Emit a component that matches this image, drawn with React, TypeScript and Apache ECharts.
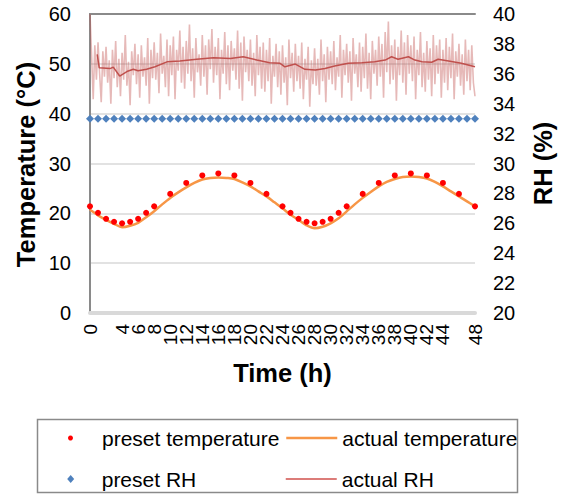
import React, { useEffect, useRef } from "react";
import * as echarts from "echarts";

const FONT = '"Liberation Sans", Arial, Helvetica, sans-serif';

// Axis ranges / tick steps
const TIME_MIN = 0;
const TIME_MAX = 48;
const TIME_STEP = 2;
const TEMP_MIN = 0;
const TEMP_MAX = 60;
const TEMP_STEP = 10;
const RH_MIN = 20;
const RH_MAX = 40;
const RH_STEP = 2;

// Titles / legend names
const TITLE_TEMP = "Temperature (°C)";
const TITLE_RH = "RH (%)";
const TITLE_TIME = "Time (h)";
const NAME_PRESET_T = "preset temperature";
const NAME_ACTUAL_T = "actual temperature";
const NAME_PRESET_RH = "preset RH";
const NAME_ACTUAL_RH = "actual RH";

// preset temperature (red dots)
const presetTempHours = [0, 1, 2, 3, 4, 5, 6, 7, 8, 10, 12, 14, 16, 18, 20, 22, 24, 25, 26, 27, 28, 29, 30, 31, 32, 34, 36, 38, 40, 42, 44, 46, 48];
const presetTempValues = [21.4, 20.1, 18.9, 18.3, 18.0, 18.3, 18.9, 20.1, 21.4, 23.9, 26.1, 27.6, 28.0, 27.6, 26.1, 23.9, 21.4, 20.1, 18.9, 18.3, 18.0, 18.3, 18.9, 20.1, 21.4, 23.9, 26.1, 27.6, 28.0, 27.6, 26.1, 23.9, 21.4];

// actual temperature (orange line), hourly
const actualTempHours = [0, 1, 2, 3, 4, 5, 6, 7, 8, 9, 10, 11, 12, 13, 14, 15, 16, 17, 18, 19, 20, 21, 22, 23, 24, 25, 26, 27, 28, 29, 30, 31, 32, 33, 34, 35, 36, 37, 38, 39, 40, 41, 42, 43, 44, 45, 46, 47, 48];
const actualTempValues = [20.7, 19.6, 18.7, 17.9, 17.2, 17.5, 18.1, 19.2, 20.4, 21.8, 23.1, 24.2, 25.2, 26.1, 26.8, 27.1, 27.2, 27.1, 26.9, 26.2, 25.4, 24.4, 23.4, 22.2, 21.0, 19.7, 18.7, 17.6, 17.0, 17.3, 18.0, 19.0, 20.4, 21.8, 23.1, 24.3, 25.4, 26.3, 26.9, 27.3, 27.4, 27.3, 27.0, 26.3, 25.4, 24.4, 23.4, 22.4, 21.4];

// preset RH (blue diamonds), hourly
const presetRhHours = [0, 1, 2, 3, 4, 5, 6, 7, 8, 9, 10, 11, 12, 13, 14, 15, 16, 17, 18, 19, 20, 21, 22, 23, 24, 25, 26, 27, 28, 29, 30, 31, 32, 33, 34, 35, 36, 37, 38, 39, 40, 41, 42, 43, 44, 45, 46, 47, 48];
const presetRhValues = [33, 33, 33, 33, 33, 33, 33, 33, 33, 33, 33, 33, 33, 33, 33, 33, 33, 33, 33, 33, 33, 33, 33, 33, 33, 33, 33, 33, 33, 33, 33, 33, 33, 33, 33, 33, 33, 33, 33, 33, 33, 33, 33, 33, 33, 33, 33, 33, 33];

// actual RH trend (dark red line)
const actualRhHours = [0.9, 1.15, 2.5, 2.9, 3.7, 4.6, 5.4, 6.0, 7.05, 8.1, 9.6, 11.2, 13.3, 15.4, 17.5, 19.1, 20.8, 22.4, 23.7, 24.3, 25.6, 26.8, 28.1, 29.3, 30.5, 32.2, 33.9, 35.5, 36.8, 37.6, 38.4, 39.7, 40.5, 41.4, 42.6, 43.4, 44.7, 46.3, 48];
const actualRhValues = [37.3, 36.4, 36.35, 36.45, 35.85, 36.15, 36.3, 36.2, 36.3, 36.47, 36.8, 36.85, 36.98, 37.07, 37.03, 37.14, 36.92, 36.74, 36.7, 36.47, 36.65, 36.3, 36.25, 36.36, 36.52, 36.7, 36.74, 36.8, 36.92, 37.14, 36.97, 37.14, 36.92, 36.8, 36.77, 36.97, 36.85, 36.7, 36.47];

// raw RH readings (pale red), sampled every 0.2 h
const RAW_RH_STEP_H = 0.2;
const rawRhValues = [
  40.0, 37.2, 34.3, 37.9, 35.6, 38.1, 36.0, 34.1, 37.5, 35.8,
  37.8, 35.4, 36.9, 34.0, 37.6, 35.7, 38.2, 35.1, 37.0, 34.5,
  37.4, 35.6, 38.6, 35.2, 36.8, 33.9, 37.5, 35.9, 38.0, 35.3,
  37.3, 34.4, 37.9, 35.8, 37.1, 35.2, 38.4, 34.0, 37.6, 35.7,
  38.1, 35.6, 37.4, 34.7, 38.7, 36.0, 37.2, 35.1, 38.3, 34.5,
  37.9, 35.9, 38.5, 34.3, 37.6, 36.2, 38.9, 35.4, 37.8, 35.0,
  38.2, 36.0, 39.3, 35.5, 37.7, 34.4, 38.4, 36.1, 37.3, 35.2,
  38.6, 35.8, 37.9, 34.6, 38.3, 36.3, 39.0, 35.4, 37.8, 35.9,
  38.4, 34.3, 37.6, 36.0, 38.8, 35.3, 37.9, 34.9, 38.2, 36.2,
  37.7, 35.6, 38.9, 35.0, 38.1, 34.2, 38.5, 36.1, 37.6, 35.5,
  38.3, 35.2, 37.4, 34.5, 38.6, 35.9, 37.8, 35.0, 38.1, 34.8,
  37.6, 35.5, 38.4, 34.0, 37.2, 35.8, 38.0, 35.1, 37.5, 34.6,
  37.9, 35.4, 37.1, 33.9, 38.3, 35.7, 37.4, 34.8, 38.0, 35.5,
  37.2, 35.0, 38.1, 34.3, 37.0, 35.6, 37.8, 33.8, 36.9, 35.3,
  37.7, 35.2, 37.0, 34.6, 38.3, 35.5, 37.3, 34.1, 37.8, 35.6,
  37.5, 35.3, 38.2, 34.9, 37.1, 35.8, 38.6, 34.4, 37.6, 35.9,
  38.0, 35.4, 37.5, 34.2, 38.4, 36.0, 37.3, 35.1, 38.1, 34.8,
  37.8, 35.7, 38.7, 35.0, 37.4, 34.3, 38.2, 36.0, 37.6, 35.2,
  38.5, 35.8, 38.0, 34.4, 38.8, 36.1, 39.5, 35.3, 37.9, 35.6,
  38.3, 34.2, 37.8, 35.9, 38.9, 35.4, 38.1, 34.6, 38.6, 36.0,
  37.9, 35.5, 38.5, 34.3, 37.6, 35.9, 38.8, 35.1, 37.4, 34.8,
  38.2, 35.6, 37.7, 34.5, 38.6, 35.3, 37.9, 36.0, 38.3, 34.4,
  37.6, 35.4, 38.4, 34.9, 37.8, 35.7, 38.7, 34.3, 37.5, 35.8,
  38.0, 35.2, 37.3, 34.6, 38.3, 35.5, 37.6, 34.9, 37.9, 35.4,
  34.5,
];

const zip = (xs: number[], ys: number[]) => xs.map((x, i) => [x, ys[i]]);

const GREY_AXIS = "#8a8a8a";
const GREY_GRID = "#d9d9d9";
const RH_RED = "#c0504d";

export default function App() {
  const ref = useRef<HTMLDivElement>(null);

  useEffect(() => {
    if (!ref.current) return;
    const chart = echarts.init(ref.current, undefined, { renderer: "svg" });

    const legendText = { fontFamily: FONT, fontSize: 21, color: "#000", lineHeight: 24 };

    const option: any = {
      animation: false,
      textStyle: { fontFamily: FONT },
      grid: { left: 90, right: 88, top: 14, bottom: 181, containLabel: false, outerBoundsMode: "none" },
      xAxis: [
        {
          type: "value",
          min: TIME_MIN,
          max: TIME_MAX,
          interval: TIME_STEP,
          position: "bottom",
          axisLine: { show: true, onZero: false, lineStyle: { color: GREY_GRID, width: 4 } },
          axisTick: { show: false },
          splitLine: { show: false },
          axisLabel: {
            rotate: 90, fontSize: 19, color: "#000", margin: 11, fontFamily: FONT,
            hideOverlap: false, showMinLabel: true, showMaxLabel: true,
          },
        },
        {
          type: "value",
          min: TIME_MIN,
          max: TIME_MAX,
          position: "top",
          axisLine: { show: true, onZero: false, lineStyle: { color: GREY_AXIS, width: 2 } },
          axisTick: { show: false },
          axisLabel: { show: false },
          splitLine: { show: false },
        },
      ],
      yAxis: [
        {
          type: "value",
          min: TEMP_MIN,
          max: TEMP_MAX,
          interval: TEMP_STEP,
          position: "left",
          axisLine: { show: true, lineStyle: { color: GREY_AXIS, width: 2 } },
          axisTick: { show: false },
          axisLabel: { fontSize: 20, color: "#000", margin: 19, fontFamily: FONT },
          splitLine: { show: true, lineStyle: { color: GREY_GRID, width: 1.5 } },
        },
        {
          type: "value",
          min: RH_MIN,
          max: RH_MAX,
          interval: RH_STEP,
          position: "right",
          axisLine: { show: true, lineStyle: { color: GREY_AXIS, width: 2 } },
          axisTick: { show: false },
          axisLabel: { fontSize: 20, color: "#000", margin: 18, fontFamily: FONT },
          splitLine: { show: false },
        },
      ],
      legend: [
        {
          data: [{ name: NAME_PRESET_T, icon: "circle" }],
          left: 68, top: 426, padding: 0, itemWidth: 5, itemHeight: 5, selectedMode: false,
          textStyle: { ...legendText, padding: [0, 0, 0, 24] },
        },
        {
          data: [{ name: NAME_PRESET_RH, icon: "diamond" }],
          left: 67.2, top: 467, padding: 0, itemWidth: 7, itemHeight: 8, selectedMode: false,
          textStyle: { ...legendText, padding: [0, 0, 0, 22.5] },
        },
        {
          data: [{ name: NAME_ACTUAL_T }],
          left: 285, top: 426, padding: 0, itemWidth: 51, itemHeight: 14, selectedMode: false,
          itemStyle: { opacity: 0 },
          lineStyle: { width: 2.5 },
          textStyle: legendText,
        },
        {
          data: [{ name: NAME_ACTUAL_RH }],
          left: 285, top: 467, padding: 0, itemWidth: 51, itemHeight: 14, selectedMode: false,
          itemStyle: { opacity: 0 },
          lineStyle: { width: 1.5, color: "#d0504d", opacity: 1 },
          textStyle: legendText,
        },
      ],
      graphic: [
        {
          type: "rect",
          z: -1,
          shape: { x: 37.5, y: 419.5, width: 480, height: 73 },
          style: { fill: "none", stroke: "#8a8a8a", lineWidth: 1.5 },
        },
        {
          type: "text",
          x: 25.5,
          y: 164.5,
          rotation: Math.PI / 2,
          style: {
            text: TITLE_TEMP, fontSize: 25.5, fontWeight: "bold", fontFamily: FONT, fill: "#000",
            align: "center", verticalAlign: "middle", textAlign: "center", textVerticalAlign: "middle",
          },
        },
        {
          type: "text",
          x: 543,
          y: 163.5,
          rotation: Math.PI / 2,
          style: {
            text: TITLE_RH, fontSize: 25.5, fontWeight: "bold", fontFamily: FONT, fill: "#000",
            align: "center", verticalAlign: "middle", textAlign: "center", textVerticalAlign: "middle",
          },
        },
        {
          type: "text",
          x: 282.5,
          y: 373,
          style: {
            text: TITLE_TIME, fontSize: 25.5, fontWeight: "bold", fontFamily: FONT, fill: "#000",
            align: "center", verticalAlign: "middle", textAlign: "center", textVerticalAlign: "middle",
          },
        },
      ],
      series: [
        {
          name: "actual RH raw",
          type: "line",
          xAxisIndex: 0,
          yAxisIndex: 1,
          data: rawRhValues.map((v, i) => [i * RAW_RH_STEP_H, v]),
          symbol: "none",
          silent: true,
          lineStyle: { color: RH_RED, width: 1.6, opacity: 0.4 },
          itemStyle: { color: RH_RED },
          z: 1,
        },
        {
          name: NAME_ACTUAL_RH,
          type: "line",
          xAxisIndex: 0,
          yAxisIndex: 1,
          data: zip(actualRhHours, actualRhValues),
          symbol: "none",
          lineStyle: { color: RH_RED, width: 1.5 },
          itemStyle: { color: RH_RED },
          z: 2,
        },
        {
          name: NAME_PRESET_RH,
          type: "scatter",
          xAxisIndex: 0,
          yAxisIndex: 1,
          data: zip(presetRhHours, presetRhValues),
          symbol: "diamond",
          symbolSize: 8,
          itemStyle: { color: "#4f81bd", opacity: 1 },
          z: 3,
        },
        {
          name: NAME_ACTUAL_T,
          type: "line",
          xAxisIndex: 0,
          yAxisIndex: 0,
          data: zip(actualTempHours, actualTempValues),
          symbol: "none",
          smooth: 0.3,
          lineStyle: { color: "#f79646", width: 2.5 },
          itemStyle: { color: "#f79646" },
          z: 4,
        },
        {
          name: NAME_PRESET_T,
          type: "scatter",
          xAxisIndex: 0,
          yAxisIndex: 0,
          data: zip(presetTempHours, presetTempValues),
          symbol: "circle",
          symbolSize: 6,
          itemStyle: { color: "#ff0000", opacity: 1 },
          z: 5,
        },
      ],
    };

    chart.setOption(option);
    return () => chart.dispose();
  }, []);

  return (
    <div
      ref={ref}
      style={{ position: "fixed", left: 0, top: 0, width: 563, height: 494, background: "#fff" }}
    />
  );
}
